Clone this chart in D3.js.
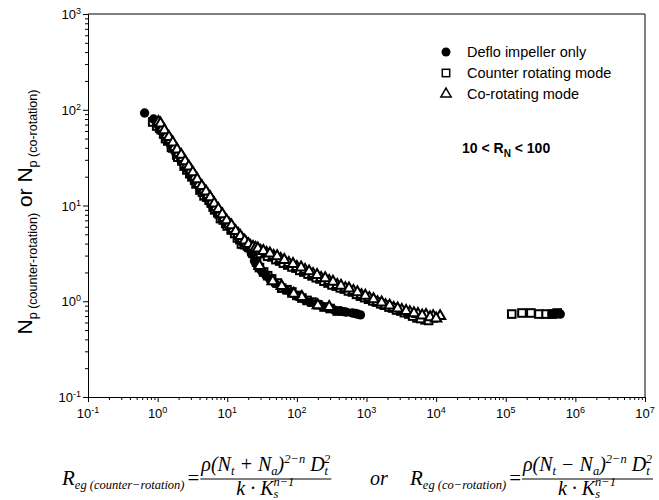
<!DOCTYPE html>
<html>
<head>
<meta charset="utf-8">
<script src="https://cdn.jsdelivr.net/npm/d3@7"></script>
<style>
  body { margin: 0; background: #fff; }
  svg { display: block; font-family: Arial, "Liberation Sans", sans-serif; }
</style>
</head>
<body>
<div id="chart"></div>
<script>
// decades shown on the axes
const xDecades = [-1, 0, 1, 2, 3, 4, 5, 6, 7];
const yDecades = [-1, 0, 1, 2, 3];

// Deflo impeller only (filled circles)
const defloX = [0.65, 0.875, 1.0, 1.14, 1.35, 1.54, 1.82, 2.15, 2.55, 3.0,
  3.56, 4.2, 5.13, 6.07, 7.16, 8.47, 10.0, 11.8, 14.0, 16.5,
  19.5, 22.3, 24.6, 27.2, 31.1, 35.6, 40.6, 48.0, 56.7, 69.3,
  84.7, 103, 126, 154, 188, 230, 281, 344, 420, 470, 513,
  627, 690, 741, 818, 4.64e5, 5.3e5, 6.07e5];
const defloY = [92.5, 80, 71, 60, 50.7, 42.8, 35.3, 29.9, 24.6, 20.3,
  17.2, 14.5, 12.0, 10.1, 8.55, 7.40, 6.41, 5.55, 4.80, 4.16,
  3.60, 3.11, 2.63, 2.33, 2.07, 1.88, 1.71, 1.55, 1.44, 1.31,
  1.22, 1.13, 1.05, 0.98, 0.935, 0.89, 0.85, 0.81, 0.79, 0.78, 0.77,
  0.754, 0.745, 0.735, 0.72, 0.735, 0.735, 0.735];

// Counter rotating mode (open squares)
const counterX = [0.85, 0.97, 1.07, 1.22, 1.40, 1.65, 1.88, 2.23, 2.63, 3.11,
  3.56, 4.06, 4.64, 5.48, 6.27, 7.65, 8.75, 10.0, 11.4, 14.0, 16.0, 19.5, 22.3,
  1.12, 1.30, 1.58, 1.95, 2.40, 2.90, 3.40, 4.40, 5.10, 5.90, 6.60, 7.30, 8.00,
  9.50, 12.8, 15.2, 17.6, 20.6,
  27.2, 33.3, 43.4, 56.7, 74.1, 96.9, 126, 165, 215, 281, 367, 480, 627, 818,
  1070, 1400, 1820, 2380, 3110, 4060, 5310, 6930, 9060,
  30, 38, 50, 64, 85, 110, 145, 190, 245, 320, 420, 550, 720, 940, 1230, 1600,
  2100, 2700, 3500, 4600, 6000, 7800,
  26.3, 33.3, 43.4, 60.6, 84.7, 118, 165, 246, 380,
  29, 38, 52, 72, 100, 140, 200, 300,
  1.22e5, 1.71e5, 2.30e5, 3.0e5, 3.8e5, 4.64e5, 5.48e5];
const counterY = [74.5, 67.6, 64.4, 55.8, 47.2, 39.9, 33.7, 29.2, 23.5, 19.9,
  16.8, 14.5, 12.6, 11.4, 9.64, 8.15, 7.06, 6.11, 5.55, 4.58, 3.96, 3.78, 3.51,
  62.0, 50.0, 40.5, 32.0, 25.8, 21.5, 18.4, 13.8, 12.2, 10.6, 9.0, 8.4, 7.3,
  6.5, 5.1, 4.4, 3.9, 3.65,
  3.35, 3.19, 2.90, 2.63, 2.39, 2.22, 2.02, 1.84, 1.71, 1.55, 1.44, 1.34, 1.25, 1.13,
  1.05, 0.98, 0.91, 0.85, 0.79, 0.735, 0.67, 0.64, 0.67,
  3.15, 2.95, 2.72, 2.50, 2.28, 2.10, 1.92, 1.76, 1.62, 1.48, 1.38, 1.28, 1.18, 1.09, 1.01, 0.94,
  0.87, 0.81, 0.76, 0.70, 0.66, 0.63,
  2.57, 2.02, 1.71, 1.37, 1.25, 1.08, 0.98, 0.87, 0.79,
  2.25, 1.85, 1.55, 1.32, 1.15, 1.02, 0.92, 0.84,
  0.735, 0.754, 0.754, 0.735, 0.735, 0.735, 0.754];

// Co-rotating mode (open triangles)
const coX = [1.03, 1.18, 1.35, 1.54, 1.76, 2.01, 2.30, 2.63, 3.0, 3.43,
  3.93, 4.64, 5.31, 6.07, 6.93, 7.93, 9.06, 10.7, 12.2, 14.4, 16.5, 18.8, 21.5,
  1.10, 1.25, 1.45, 1.65, 1.90, 2.18, 2.48, 2.80, 3.20, 3.70, 4.30, 4.95, 5.70,
  6.50, 7.45, 8.50, 9.80, 11.5, 13.2, 15.4, 17.8, 20.2, 23.5,
  25.5, 30.1, 36.7, 46.4, 58.6, 76.6, 100, 131, 171, 223, 291, 380, 497, 649,
  847, 1100, 1440, 1880, 2460, 3210, 4200, 5480, 7160, 9060, 11400,
  27.5, 33, 41, 52, 66, 88, 115, 150, 195, 255, 330, 430, 560, 740, 960, 1260,
  1650, 2150, 2800, 3700, 4800, 6300, 8200, 10000,
  29.1, 60.6, 118, 291, 45, 90, 200];
const coY = [74.5, 64.4, 54.5, 48.3, 40.8, 35.3, 31.3, 26.5, 23.5, 19.9,
  16.8, 14.5, 12.9, 11.1, 9.64, 8.35, 7.40, 6.41, 5.69, 5.04, 4.47, 4.06, 3.78,
  72.0, 61.0, 52.0, 45.5, 38.5, 33.8, 29.0, 25.5, 22.2, 18.8, 16.0, 14.0, 12.2,
  10.5, 9.2, 8.1, 7.0, 6.2, 5.4, 4.8, 4.3, 3.95, 3.70,
  3.60, 3.35, 3.19, 2.97, 2.76, 2.51, 2.28, 2.12, 1.93, 1.75, 1.63, 1.48, 1.37, 1.28,
  1.16, 1.08, 0.98, 0.91, 0.85, 0.81, 0.77, 0.735, 0.72, 0.70, 0.70,
  3.55, 3.35, 3.15, 2.95, 2.70, 2.45, 2.25, 2.05, 1.88, 1.74, 1.60, 1.45, 1.36, 1.24, 1.14, 1.05,
  0.97, 0.90, 0.84, 0.79, 0.75, 0.71, 0.68, 0.66,
  2.33, 1.44, 1.11, 0.87, 1.62, 1.20, 0.91];

const legendLabels = ["Deflo impeller only", "Counter rotating mode", "Co-rotating mode"];

const W = 659, H = 500;
const margin = { top: 14, right: 14, bottom: 103, left: 88 },
      width = W - margin.left - margin.right,
      height = H - margin.top - margin.bottom;

const svg = d3.select("#chart").append("svg")
  .attr("width", W).attr("height", H);

const g = svg.append("g")
  .attr("transform", `translate(${margin.left},${margin.top})`);

const x = d3.scaleLog().domain([0.1, 1e7]).range([0, width]);
const y = d3.scaleLog().domain([0.1, 1e3]).range([height, 0]);

function logTicks(decades) {
  const out = [];
  decades.forEach((d, i) => {
    out.push(Math.pow(10, d));
    if (i < decades.length - 1) {
      for (let k = 2; k <= 9; k++) out.push(k * Math.pow(10, d));
    }
  });
  return out;
}
const isMajor = v => Math.abs(Math.log10(v) - Math.round(Math.log10(v))) < 1e-9;

// x axis
const xAxis = g.append("g")
  .attr("transform", `translate(0,${height})`)
  .call(d3.axisBottom(x).tickValues(logTicks(xDecades)).tickSize(3).tickFormat(""));
xAxis.selectAll(".tick line").attr("y2", d => isMajor(d) ? 5 : 3);
xAxis.selectAll("path, line").attr("stroke", "#000").attr("stroke-width", 1);

// y axis
const yAxis = g.append("g")
  .call(d3.axisLeft(y).tickValues(logTicks(yDecades)).tickSize(3).tickFormat(""));
yAxis.selectAll(".tick line").attr("x2", d => isMajor(d) ? -5 : -3);
yAxis.selectAll("path, line").attr("stroke", "#000").attr("stroke-width", 1);

// top and right frame
g.append("line").attr("x1", 0).attr("x2", width).attr("y1", 0).attr("y2", 0)
  .attr("stroke", "#000");
g.append("line").attr("x1", width).attr("x2", width).attr("y1", 0).attr("y2", height)
  .attr("stroke", "#000");

// tick labels with superscripts
xDecades.forEach(d => {
  const t = g.append("text")
    .attr("x", x(Math.pow(10, d)))
    .attr("y", height + 21)
    .attr("text-anchor", "middle")
    .attr("font-size", 13);
  t.append("tspan").text("10");
  t.append("tspan").attr("dy", -5).attr("font-size", 9).text(d);
});
yDecades.forEach(d => {
  const t = g.append("text")
    .attr("x", -7)
    .attr("y", y(Math.pow(10, d)) + 5)
    .attr("text-anchor", "end")
    .attr("font-size", 13);
  t.append("tspan").text("10");
  t.append("tspan").attr("dy", -5).attr("font-size", 9).text(d);
});

// y axis title
const yt = svg.append("text")
  .attr("transform", "translate(32,212) rotate(-90)")
  .attr("text-anchor", "middle")
  .attr("font-size", 21);
yt.append("tspan").text("N");
yt.append("tspan").attr("dy", 5).attr("font-size", 12.5).text("p (counter-rotation)");
yt.append("tspan").attr("dy", -5).text(" or N");
yt.append("tspan").attr("dy", 5).attr("font-size", 12.5).text("p (co-rotation)");

// markers
const tri = d3.symbol().type(d3.symbolTriangle).size(46);

function drawCircles(sel, xs, ys) {
  sel.selectAll(null).data(xs.map((v, i) => [v, ys[i]])).enter()
    .append("circle")
    .attr("cx", d => x(d[0])).attr("cy", d => y(d[1]))
    .attr("r", 4.7).attr("fill", "#000");
}
function drawSquares(sel, xs, ys) {
  sel.selectAll(null).data(xs.map((v, i) => [v, ys[i]])).enter()
    .append("rect")
    .attr("x", d => x(d[0]) - 3.8).attr("y", d => y(d[1]) - 3.8)
    .attr("width", 7.6).attr("height", 7.6)
    .attr("fill", "#fff").attr("stroke", "#000").attr("stroke-width", 2);
}
function drawTriangles(sel, xs, ys) {
  sel.selectAll(null).data(xs.map((v, i) => [v, ys[i]])).enter()
    .append("path")
    .attr("d", tri)
    .attr("transform", d => `translate(${x(d[0])},${y(d[1])})`)
    .attr("fill", "#fff").attr("stroke", "#000").attr("stroke-width", 2);
}

drawSquares(g.append("g"), counterX, counterY);
drawCircles(g.append("g"), defloX, defloY);
drawTriangles(g.append("g"), coX, coY);

// legend
const legend = svg.append("g");
const rows = [52, 73, 94];
legend.append("circle").attr("cx", 446).attr("cy", rows[0]).attr("r", 4.5).attr("fill", "#000");
legend.append("rect").attr("x", 442.3).attr("y", rows[1] - 3.7).attr("width", 7.4).attr("height", 7.4)
  .attr("fill", "#fff").attr("stroke", "#000").attr("stroke-width", 1.5);
legend.append("path").attr("d", tri).attr("transform", `translate(446,${rows[2]})`)
  .attr("fill", "#fff").attr("stroke", "#000").attr("stroke-width", 1.5);
legendLabels.forEach((s, i) => {
  legend.append("text").attr("x", 467).attr("y", rows[i] + 5)
    .attr("font-size", 14.5).text(s);
});

// range annotation
const rn = svg.append("text").attr("x", 462).attr("y", 153)
  .attr("font-size", 14).attr("font-weight", "bold");
rn.append("tspan").text("10 < R");
rn.append("tspan").attr("dy", 4).attr("font-size", 10).text("N");
rn.append("tspan").attr("dy", -4).text(" < 100");

// Reynolds number definitions below the chart
const serif = "'Liberation Serif', 'Times New Roman', serif";
const numParts = op => [
  ["ρ(N", 0, 20], ["t", 4, 12.5], [" " + op + " N", -4, 20], ["a", 4, 12.5], [")", -4, 20],
  ["2−n", -8, 12.5], [" D", 8, 20], ["t", 4, 12.5], ["2", -12, 12.5, -4]
];
const denParts = [["k · K", 0, 20], ["s", 3, 12.5], ["n−1", -12, 12.5, -5]];

function formula(x0, sub, op) {
  const f = svg.append("g").attr("font-family", serif).attr("font-style", "italic");
  const lhs = f.append("text").attr("x", x0).attr("y", 485).attr("font-size", 21);
  lhs.append("tspan").text("R");
  lhs.append("tspan").attr("dy", 4).attr("font-size", 12.5).text(sub);
  lhs.append("tspan").attr("dy", -4).attr("dx", 3).attr("font-style", "normal").text("=");
  const lb = lhs.node().getBBox();
  const num = f.append("text").attr("y", 471);
  numParts(op).forEach(p => num.append("tspan").attr("dy", p[1]).attr("dx", p[3] || 0)
    .attr("font-size", p[2]).text(p[0]));
  const nw = num.node().getBBox().width;
  const nx = Math.min(lb.x + lb.width + 2, W - 4 - nw);
  num.attr("x", nx);
  const nb = num.node().getBBox();
  f.append("line").attr("x1", nb.x).attr("x2", nb.x + nb.width + 1).attr("y1", 479).attr("y2", 479)
    .attr("stroke", "#000").attr("stroke-width", 1);
  const den = f.append("text").attr("x", nb.x + nb.width / 2).attr("y", 495)
    .attr("text-anchor", "middle");
  denParts.forEach(p => den.append("tspan").attr("dy", p[1]).attr("dx", p[3] || 0)
    .attr("font-size", p[2]).text(p[0]));
}

formula(62, "eg (counter−rotation)", "+");
svg.append("text").attr("x", 370).attr("y", 485).attr("font-family", serif)
  .attr("font-style", "italic").attr("font-size", 20).text("or");
formula(410, "eg (co−rotation)", "−");
</script>
</body>
</html>
